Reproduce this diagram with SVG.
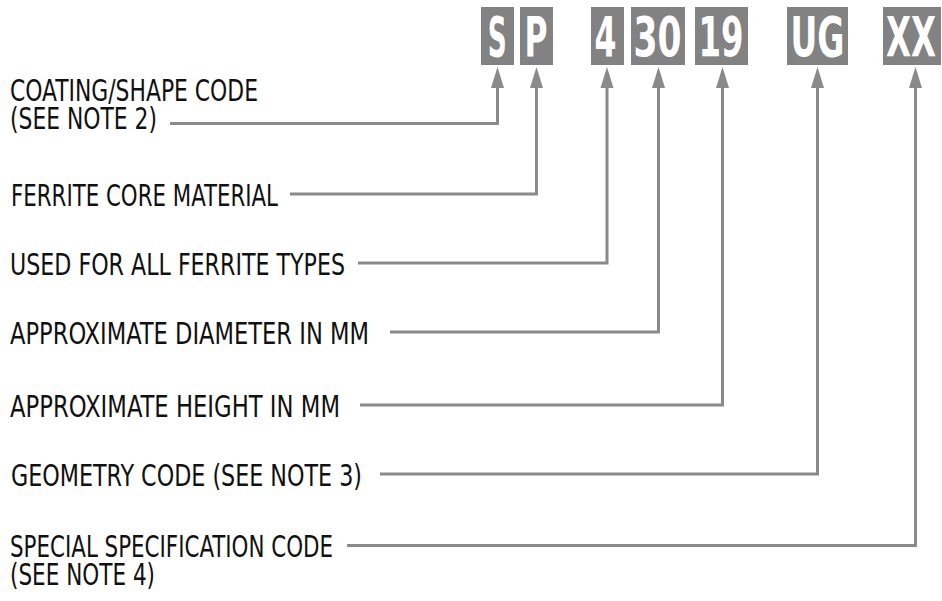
<svg xmlns="http://www.w3.org/2000/svg" width="942" height="601" viewBox="0 0 942 601">
  <style>
    .lbl { font-family: "Liberation Sans Narrow", "DejaVu Sans Condensed", "Liberation Sans", sans-serif; font-size: 31px; fill: #111; }
    .box { fill: #828282; }
    .code { font-family: "Liberation Sans Narrow", "DejaVu Sans Condensed", "Liberation Sans", sans-serif; font-weight: bold; font-size: 55px; fill: #fff; text-anchor: middle; }
    .conn { fill: none; stroke: #8a8a8a; stroke-width: 3; marker-end: url(#arr); }
  </style>
  <defs>
    <marker id="arr" markerUnits="userSpaceOnUse" markerWidth="22" markerHeight="14" refX="13" refY="6.5" orient="auto" viewBox="0 0 22 13">
      <path d="M0,0 L21,6.5 L0,13 z" fill="#8a8a8a"/>
    </marker>
  </defs>
  <rect width="942" height="601" fill="#fff"/>

  <g id="code-S"><rect class="box" x="481" y="7" width="33" height="58"/><text class="code" x="497.3" y="56" textLength="19" lengthAdjust="spacingAndGlyphs">S</text></g>
  <g id="code-P"><rect class="box" x="520" y="7" width="33" height="58"/><text class="code" x="536" y="56" textLength="23" lengthAdjust="spacingAndGlyphs">P</text></g>
  <g id="code-4"><rect class="box" x="591" y="7" width="33" height="58"/><text class="code" x="605.5" y="56" textLength="22" lengthAdjust="spacingAndGlyphs">4</text></g>
  <g id="code-30"><rect class="box" x="631" y="7" width="54" height="58"/><text class="code" x="657.5" y="56" textLength="48" lengthAdjust="spacingAndGlyphs">30</text></g>
  <g id="code-19"><rect class="box" x="695" y="7" width="53" height="58"/><text class="code" x="721" y="56" textLength="45" lengthAdjust="spacingAndGlyphs">19</text></g>
  <g id="code-UG"><rect class="box" x="787" y="7" width="61" height="58"/><text class="code" x="817.5" y="56" textLength="54" lengthAdjust="spacingAndGlyphs">UG</text></g>
  <g id="code-XX"><rect class="box" x="883" y="7" width="58" height="58"/><text class="code" x="911" y="56" textLength="50" lengthAdjust="spacingAndGlyphs">XX</text></g>

  <g id="label-coating">
    <text class="lbl"><tspan x="10" y="101" textLength="248" lengthAdjust="spacingAndGlyphs">COATING/SHAPE CODE</tspan><tspan x="10" y="129" textLength="147" lengthAdjust="spacingAndGlyphs">(SEE NOTE 2)</tspan></text>
  </g>
  <g id="label-ferrite"><text class="lbl" x="11" y="206" textLength="267" lengthAdjust="spacingAndGlyphs">FERRITE CORE MATERIAL</text></g>
  <g id="label-used"><text class="lbl" x="10" y="275" textLength="335" lengthAdjust="spacingAndGlyphs">USED FOR ALL FERRITE TYPES</text></g>
  <g id="label-diameter"><text class="lbl" x="10" y="344" textLength="359" lengthAdjust="spacingAndGlyphs">APPROXIMATE DIAMETER IN MM</text></g>
  <g id="label-height"><text class="lbl" x="10" y="417" textLength="330" lengthAdjust="spacingAndGlyphs">APPROXIMATE HEIGHT IN MM</text></g>
  <g id="label-geometry"><text class="lbl" x="11" y="486" textLength="351" lengthAdjust="spacingAndGlyphs">GEOMETRY CODE (SEE NOTE 3)</text></g>
  <g id="label-special">
    <text class="lbl"><tspan x="10" y="557" textLength="323" lengthAdjust="spacingAndGlyphs">SPECIAL SPECIFICATION CODE</tspan><tspan x="10" y="585" textLength="145" lengthAdjust="spacingAndGlyphs">(SEE NOTE 4)</tspan></text>
  </g>

  <g id="connectors">
    <polyline class="conn" points="170,123.5 497.5,123.5 497.5,75"/>
    <polyline class="conn" points="290,194 536.5,194 536.5,75"/>
    <polyline class="conn" points="358,263 607,263 607,75"/>
    <polyline class="conn" points="390,332 658.5,332 658.5,75"/>
    <polyline class="conn" points="360,405 722.5,405 722.5,75"/>
    <polyline class="conn" points="380,474 817.5,474 817.5,75"/>
    <polyline class="conn" points="347,545.5 915.5,545.5 915.5,75"/>
  </g>
</svg>
